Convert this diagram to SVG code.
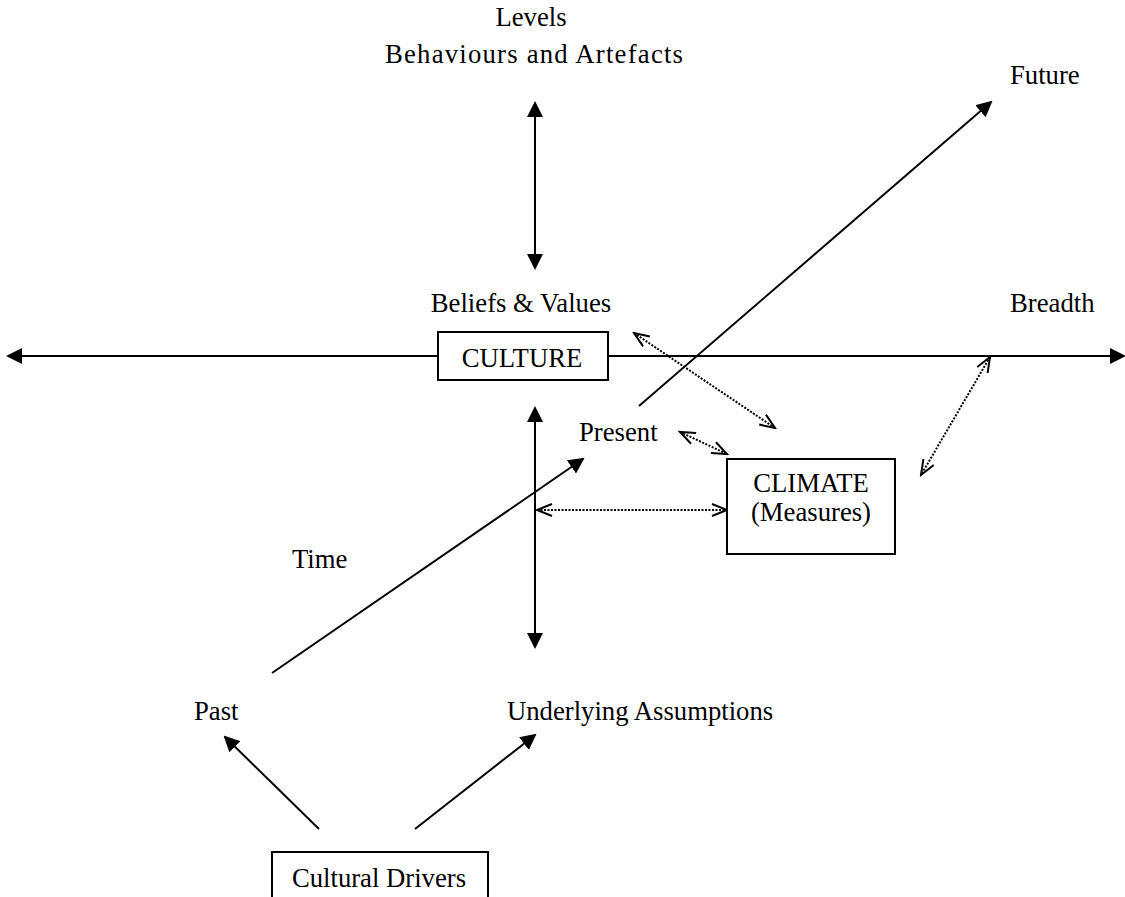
<svg xmlns="http://www.w3.org/2000/svg" width="1125" height="897" viewBox="0 0 1125 897">
<style>
text{font-family:"Liberation Serif","Times New Roman",serif;font-size:26.7px;fill:#000}
.s{stroke:#000;stroke-width:2;fill:none}
.d{stroke:#000;stroke-width:2;fill:none;stroke-dasharray:2 1.5}
.box{fill:#fff;stroke:#000;stroke-width:2}
</style>
<defs>
<marker id="ah" viewBox="0 0 16 16" markerWidth="16" markerHeight="16" refX="14" refY="8" orient="auto-start-reverse" markerUnits="userSpaceOnUse">
<path d="M0,0 L16,8 L0,16 z" fill="#000"/>
</marker>
<marker id="oh" viewBox="0 0 18 14" markerWidth="18" markerHeight="14" refX="16" refY="7" orient="auto-start-reverse" markerUnits="userSpaceOnUse">
<path d="M1,1 L16,7 L1,13" fill="none" stroke="#000" stroke-width="2"/>
</marker>
</defs>
<g id="connectors">
<line class="s" x1="8" y1="356" x2="1124" y2="356" marker-start="url(#ah)" marker-end="url(#ah)"/>
<line class="s" x1="535" y1="103" x2="535" y2="268" marker-start="url(#ah)" marker-end="url(#ah)"/>
<line class="s" x1="535" y1="408" x2="535" y2="647" marker-start="url(#ah)" marker-end="url(#ah)"/>
<line class="s" x1="639" y1="406" x2="991" y2="102" marker-end="url(#ah)"/>
<line class="s" x1="272" y1="673" x2="583" y2="459" marker-end="url(#ah)"/>
<line class="s" x1="319" y1="829" x2="225" y2="737" marker-end="url(#ah)"/>
<line class="s" x1="415" y1="829" x2="535" y2="735" marker-end="url(#ah)"/>
<line class="d" x1="537" y1="510" x2="727" y2="510" marker-start="url(#oh)" marker-end="url(#oh)"/>
<line class="d" x1="634" y1="333" x2="775" y2="428" marker-start="url(#oh)" marker-end="url(#oh)"/>
<line class="d" x1="680" y1="432" x2="727" y2="454" marker-start="url(#oh)" marker-end="url(#oh)"/>
<line class="d" x1="990" y1="357" x2="921" y2="475" marker-start="url(#oh)" marker-end="url(#oh)"/>
</g>
<g id="culture">
<rect class="box" x="438" y="332" width="170" height="48"/>
<text x="522" y="367" text-anchor="middle">CULTURE</text>
</g>
<g id="climate">
<rect class="box" x="727" y="459" width="168" height="95"/>
<text x="811" y="492" text-anchor="middle">CLIMATE</text>
<text x="811" y="521" text-anchor="middle">(Measures)</text>
</g>
<g id="drivers">
<rect class="box" x="272" y="852" width="216" height="60"/>
<text x="379" y="887" text-anchor="middle">Cultural Drivers</text>
</g>
<g id="labels">
<text x="531" y="26" text-anchor="middle">Levels</text>
<text x="385" y="63" textLength="298" lengthAdjust="spacing">Behaviours and Artefacts</text>
<text x="1010" y="84">Future</text>
<text x="521" y="312" text-anchor="middle">Beliefs &amp; Values</text>
<text x="1010" y="312">Breadth</text>
<text x="579" y="441">Present</text>
<text x="292" y="568">Time</text>
<text x="194" y="720">Past</text>
<text x="507" y="720">Underlying Assumptions</text>
</g>
</svg>
